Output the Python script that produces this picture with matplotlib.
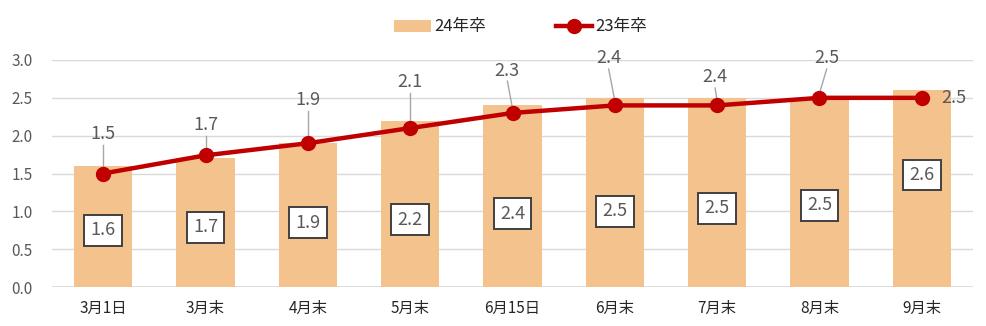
import matplotlib.pyplot as plt
import numpy as np

categories = ["3月1日", "3月末", "4月末", "5月末", "6月15日", "6月末", "7月末", "8月末", "9月末"]
bars_24 = [1.6, 1.7, 1.9, 2.2, 2.4, 2.5, 2.5, 2.5, 2.6]
line_23 = [1.5, 1.74, 1.9, 2.1, 2.3, 2.4, 2.4, 2.5, 2.5]
line_labels = ["1.5", "1.7", "1.9", "2.1", "2.3", "2.4", "2.4", "2.5", "2.5"]

# where the boxed bar labels and the line labels sit (data units)
bar_label_y = [0.75, 0.79, 0.85, 0.89, 0.97, 1.0, 1.04, 1.08, 1.48]
line_label_pos = [(0, 2.02), (0, 2.14), (0, 2.47), (0, 2.71), (-0.05, 2.86),
                  (-0.06, 3.02), (-0.02, 2.77), (0.07, 3.02), (0.31, 2.5)]

plt.rcParams['font.family'] = ['Noto Sans CJK JP', 'DejaVu Sans']
txt = "#595959"

fig = plt.figure(figsize=(9.86, 3.26), dpi=100)
ax = fig.add_axes([52 / 986, 39 / 326, 921 / 986, 227 / 326])

x = np.arange(len(categories))
b = ax.bar(x, bars_24, width=0.57, color="#F4C28C", label="24年卒", zorder=2)
l, = ax.plot(x, line_23, color="#C00000", lw=3.2, marker="o", ms=10, label="23年卒", zorder=3)

for i, v in enumerate(bars_24):
    ax.text(i, bar_label_y[i], f"{v:.1f}", ha="center", va="center", fontsize=13, color=txt,
            bbox=dict(boxstyle="square,pad=0.35", fc="white", ec="#404040", lw=1.4), zorder=4)

for i, (dx, ly) in enumerate(line_label_pos):
    ax.text(i + dx, ly, line_labels[i], ha="center", va="center", fontsize=13, color=txt, zorder=4)
    if i < len(line_label_pos) - 1:
        ax.plot([i + dx, i], [ly - 0.14, line_23[i] + 0.06], color="#A6A6A6", lw=1, zorder=2.5)

ax.set_xlim(-0.5, len(categories) - 0.5)
ax.set_ylim(0, 3.0)
ax.set_yticks(np.arange(0, 3.01, 0.5))
ax.set_yticklabels([f"{t:.1f}" for t in np.arange(0, 3.01, 0.5)])
ax.set_xticks(x)
ax.set_xticklabels(categories)
ax.tick_params(axis="both", length=0, colors=txt, labelsize=11)
ax.tick_params(axis="x", pad=9, colors="#262626")
ax.tick_params(axis="y", pad=14)
ax.grid(axis="y", color="#D9D9D9", lw=1, zorder=0)
for s in ax.spines.values():
    s.set_visible(False)
ax.axhline(0, color="#D9D9D9", lw=1.2, zorder=1)

fig.legend([b, l], ["24年卒", "23年卒"], loc="center", bbox_to_anchor=(0.528, 1 - 27 / 326), ncol=2,
           frameon=False, fontsize=12, handlelength=2.2, columnspacing=4.2, labelcolor="#262626",
           handletextpad=0.2)

fig.savefig("out.png", dpi=100)
